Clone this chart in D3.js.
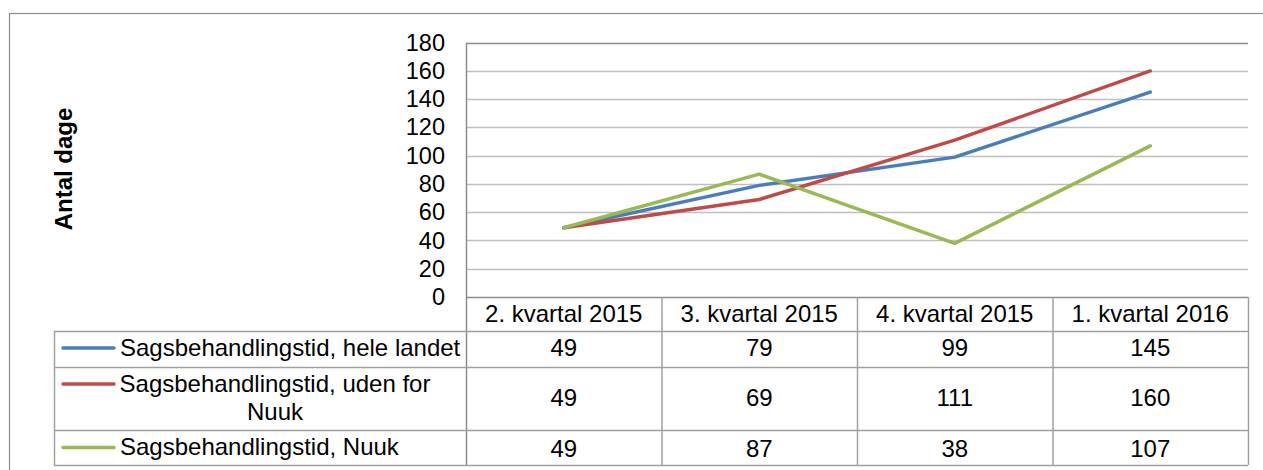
<!DOCTYPE html>
<html>
<head>
<meta charset="utf-8">
<script src="https://cdn.jsdelivr.net/npm/d3@7"></script>
<style>
  body { margin: 0; background: #fff; }
  text { font-family: "Liberation Sans", Arial, sans-serif; fill: #000; }
</style>
</head>
<body>
<div id="chart"></div>
<script>
// chart data
var quarters = ["2. kvartal 2015", "3. kvartal 2015", "4. kvartal 2015", "1. kvartal 2016"];
var seriesNames = ["Sagsbehandlingstid, hele landet", "Sagsbehandlingstid, uden for Nuuk", "Sagsbehandlingstid, Nuuk"];
var heleLandet = [49, 79, 99, 145];
var udenForNuuk = [49, 69, 111, 160];
var nuuk = [49, 87, 38, 107];
var yTicks = [0, 20, 40, 60, 80, 100, 120, 140, 160, 180];
var colors = ["#4a7ebb", "#be4b48", "#98b954"];

var svgWidth = 1263;
var svgHeight = 470;
var fontSize = "24px";

var svg = d3.select("#chart")
  .append("svg")
  .attr("width", svgWidth)
  .attr("height", svgHeight);

// outer chart border
svg.append("rect")
  .attr("x", 9.5).attr("y", 13.5)
  .attr("width", 1270).attr("height", 480)
  .attr("fill", "none")
  .attr("stroke", "#8c8c8c")
  .attr("stroke-width", 1.2);

var plotLeft = 466, plotRight = 1248, plotTop = 42.7, plotBottom = 297;

var xScale = d3.scaleBand()
  .domain(quarters)
  .range([plotLeft, plotRight]);

var yScale = d3.scaleLinear()
  .domain([0, 180])
  .range([plotBottom, plotTop]);

// gridlines
svg.append("g")
  .selectAll("line")
  .data(yTicks.filter(d => d > 0))
  .enter()
  .append("line")
  .attr("x1", plotLeft).attr("x2", plotRight)
  .attr("y1", d => Math.round(yScale(d)) + 0.5)
  .attr("y2", d => Math.round(yScale(d)) + 0.5)
  .attr("stroke", d => d === 180 ? "#8c8c8c" : "#bfbfbf")
  .attr("stroke-width", 1.5);

// y axis labels
var yAxis = svg.append("g")
  .attr("transform", `translate(${plotLeft}, 0)`)
  .call(d3.axisLeft(yScale).tickValues(yTicks).tickSize(0).tickPadding(21));
yAxis.select(".domain").remove();
yAxis.selectAll("text")
  .style("font-family", "Liberation Sans, Arial, sans-serif")
  .style("font-size", "23.5px")
  .attr("fill", "#000");

// axis title
svg.append("text")
  .attr("transform", "translate(72, 169) rotate(-90)")
  .attr("text-anchor", "middle")
  .style("font-size", fontSize)
  .style("font-weight", "bold")
  .text("Antal dage");

// table rows
var rowEdges = [297, 331, 367, 430, 465];
var tableLeft = 54;
var gridColor = "#a0a0a0";
var tbl = svg.append("g");

// y axis line down through the table
tbl.append("line")
  .attr("x1", plotLeft + 0.5).attr("x2", plotLeft + 0.5)
  .attr("y1", plotTop).attr("y2", rowEdges[4])
  .attr("stroke", "#8c8c8c").attr("stroke-width", 1.5);

// category axis line
tbl.append("line")
  .attr("x1", plotLeft).attr("x2", plotRight)
  .attr("y1", plotBottom + 0.5).attr("y2", plotBottom + 0.5)
  .attr("stroke", "#8c8c8c").attr("stroke-width", 1.5);

// horizontal table lines
rowEdges.slice(1).forEach(function(y) {
  tbl.append("line")
    .attr("x1", tableLeft).attr("x2", plotRight)
    .attr("y1", y + 0.5).attr("y2", y + 0.5)
    .attr("stroke", gridColor).attr("stroke-width", 1.5);
});

// vertical table lines
quarters.forEach(function(q) {
  tbl.append("line")
    .attr("x1", xScale(q) + xScale.bandwidth() + 0.5)
    .attr("x2", xScale(q) + xScale.bandwidth() + 0.5)
    .attr("y1", rowEdges[0]).attr("y2", rowEdges[4])
    .attr("stroke", gridColor).attr("stroke-width", 1.5);
});
tbl.append("line")
  .attr("x1", tableLeft + 0.5).attr("x2", tableLeft + 0.5)
  .attr("y1", rowEdges[1]).attr("y2", rowEdges[4])
  .attr("stroke", gridColor).attr("stroke-width", 1.5);

// header labels
tbl.selectAll(".head")
  .data(quarters)
  .enter()
  .append("text")
  .attr("x", d => xScale(d) + xScale.bandwidth() / 2)
  .attr("y", 322)
  .attr("text-anchor", "middle")
  .style("font-size", fontSize)
  .text(d => d);

// values per row
var allSeries = [heleLandet, udenForNuuk, nuuk];
var valueBaselines = [356, 406, 456.5];
allSeries.forEach(function(vals, i) {
  tbl.selectAll(".v" + i)
    .data(vals)
    .enter()
    .append("text")
    .attr("x", (d, j) => xScale(quarters[j]) + xScale.bandwidth() / 2)
    .attr("y", valueBaselines[i])
    .attr("text-anchor", "middle")
    .style("font-size", fontSize)
    .text(d => d);
});

// legend keys in the table
var keyY = [348, 384, 447.5];
keyY.forEach(function(y, i) {
  tbl.append("line")
    .attr("x1", 63).attr("x2", 114)
    .attr("y1", y).attr("y2", y)
    .attr("stroke", colors[i])
    .attr("stroke-width", 3.5)
    .attr("stroke-linecap", "round");
});

tbl.append("text")
  .attr("x", 120).attr("y", 356)
  .style("font-size", fontSize)
  .text(seriesNames[0]);

tbl.append("text")
  .attr("x", 275).attr("y", 391.5)
  .attr("text-anchor", "middle")
  .style("font-size", fontSize)
  .text("Sagsbehandlingstid, uden for");
tbl.append("text")
  .attr("x", 275).attr("y", 420)
  .attr("text-anchor", "middle")
  .style("font-size", fontSize)
  .text("Nuuk");

tbl.append("text")
  .attr("x", 120).attr("y", 455)
  .style("font-size", fontSize)
  .text(seriesNames[2]);

// lines
var line = d3.line()
  .x((d, j) => xScale(quarters[j]) + xScale.bandwidth() / 2)
  .y(d => yScale(d));

svg.append("g")
  .selectAll("path")
  .data(allSeries)
  .enter()
  .append("path")
  .attr("d", d => line(d))
  .attr("fill", "none")
  .attr("stroke", (d, i) => colors[i])
  .attr("stroke-width", 3.5)
  .attr("stroke-linejoin", "round")
  .attr("stroke-linecap", "round");
</script>
</body>
</html>
